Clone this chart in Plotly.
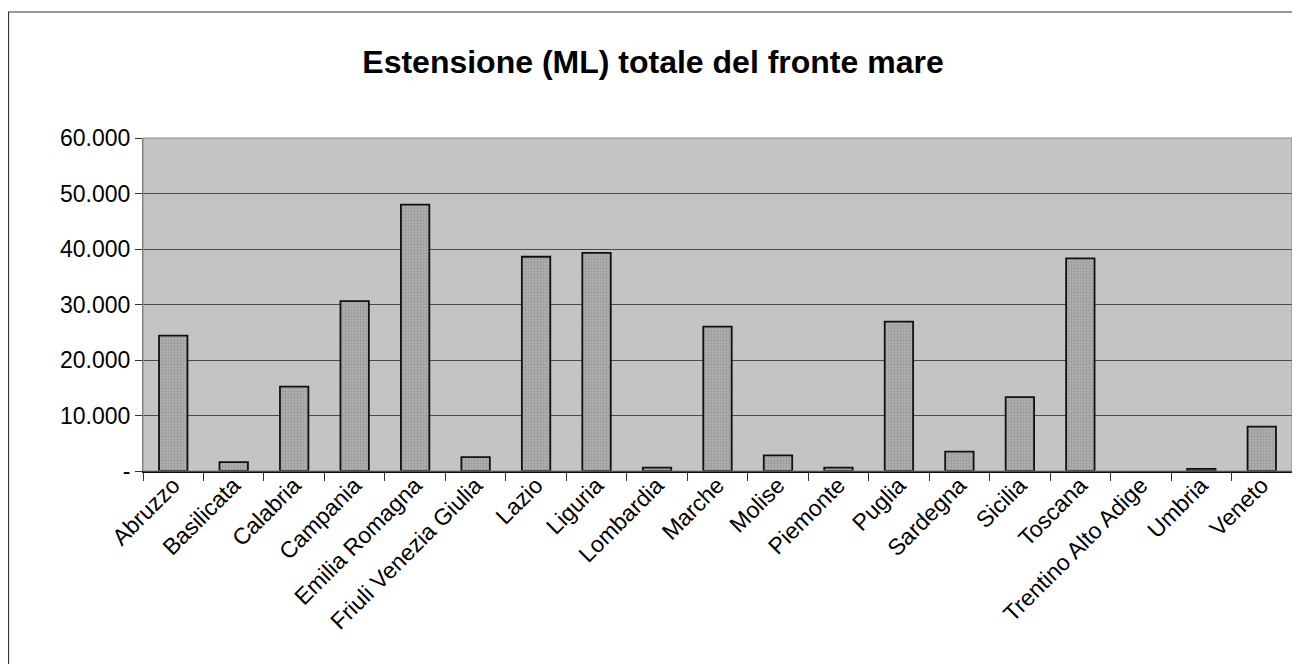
import plotly.graph_objects as go

regioni = ["Abruzzo", "Basilicata", "Calabria", "Campania", "Emilia Romagna",
           "Friuli Venezia Giulia", "Lazio", "Liguria", "Lombardia", "Marche",
           "Molise", "Piemonte", "Puglia", "Sardegna", "Sicilia", "Toscana",
           "Trentino Alto Adige", "Umbria", "Veneto"]
estensione_ml = [24400, 1600, 15200, 30600, 48000,
                 2500, 38600, 39300, 600, 26000,
                 2800, 600, 26900, 3500, 13300, 38300,
                 0, 400, 8000]

y_tickvals = [0, 10000, 20000, 30000, 40000, 50000, 60000]
y_ticktext = ["-", "10.000", "20.000", "30.000", "40.000", "50.000", "60.000"]

# page body has an 8px margin, so the figure is drawn 8px in from the window edge
W, H = 1292, 656
L, R, T, B = 135, 8, 130, 193
pw, ph = W - L - R, H - T - B

# no outline for empty (zero) bars, as in the original
outline_w = [0 if v == 0 else 1.8 for v in estensione_ml]

fig = go.Figure()
fig.add_trace(go.Bar(
    x=regioni, y=estensione_ml,
    marker=dict(color="#a9a9a9", line=dict(color="#111111", width=outline_w),
                pattern=dict(shape=".", fgcolor="#7e7e7e", bgcolor="#b2b2b2", size=3, solidity=0.45)),
    hoverinfo="x+y",
))

def px_x(p):
    return (p - L) / pw

def px_y(p):
    return (H - B - p) / ph

fig.update_layout(
    width=W, height=H,
    margin=dict(l=L, r=R, t=T, b=B),
    paper_bgcolor="white",
    plot_bgcolor="#c4c4c4",
    bargap=0.53,
    showlegend=False,
    font=dict(family="Liberation Sans, Arial, sans-serif", color="black"),
    title=dict(text="<b>Estensione (ML) totale del fronte mare</b>",
               x=645 / W, xref="container", xanchor="center",
               y=1 - 54 / H, yref="container", yanchor="middle",
               font=dict(size=32, family="Liberation Sans, Arial, sans-serif", color="black")),
    xaxis=dict(
        type="category",
        tickangle=-45,
        tickfont=dict(size=23),
        ticks="outside", ticklen=8, tickcolor="#333333",
        tickson="boundaries",
        ticklabelstandoff=-10,
        showline=True, linecolor="#111111", linewidth=1.5,
        showgrid=False,
        mirror=False,
    ),
    yaxis=dict(
        range=[0, 60000],
        tickvals=y_tickvals, ticktext=y_ticktext,
        tickfont=dict(size=23),
        ticks="outside", ticklen=7, tickcolor="#333333",
        showline=True, linecolor="#777777", linewidth=1,
        showgrid=True, gridcolor="#4a4a4a", gridwidth=1,
        zeroline=False,
    ),
    shapes=[
        # plot-area border (top/right)
        dict(type="rect", xref="paper", yref="paper", x0=0, x1=1, y0=0, y1=1,
             line=dict(color="#888888", width=1), fillcolor="rgba(0,0,0,0)", layer="above"),
        # outer chart frame
        dict(type="rect", xref="paper", yref="paper",
             x0=px_x(0.5), x1=px_x(1289), y0=px_y(680), y1=px_y(4),
             line=dict(color="#333333", width=1.2), fillcolor="rgba(0,0,0,0)", layer="above"),
    ],
)

fig.write_html("out.html")
